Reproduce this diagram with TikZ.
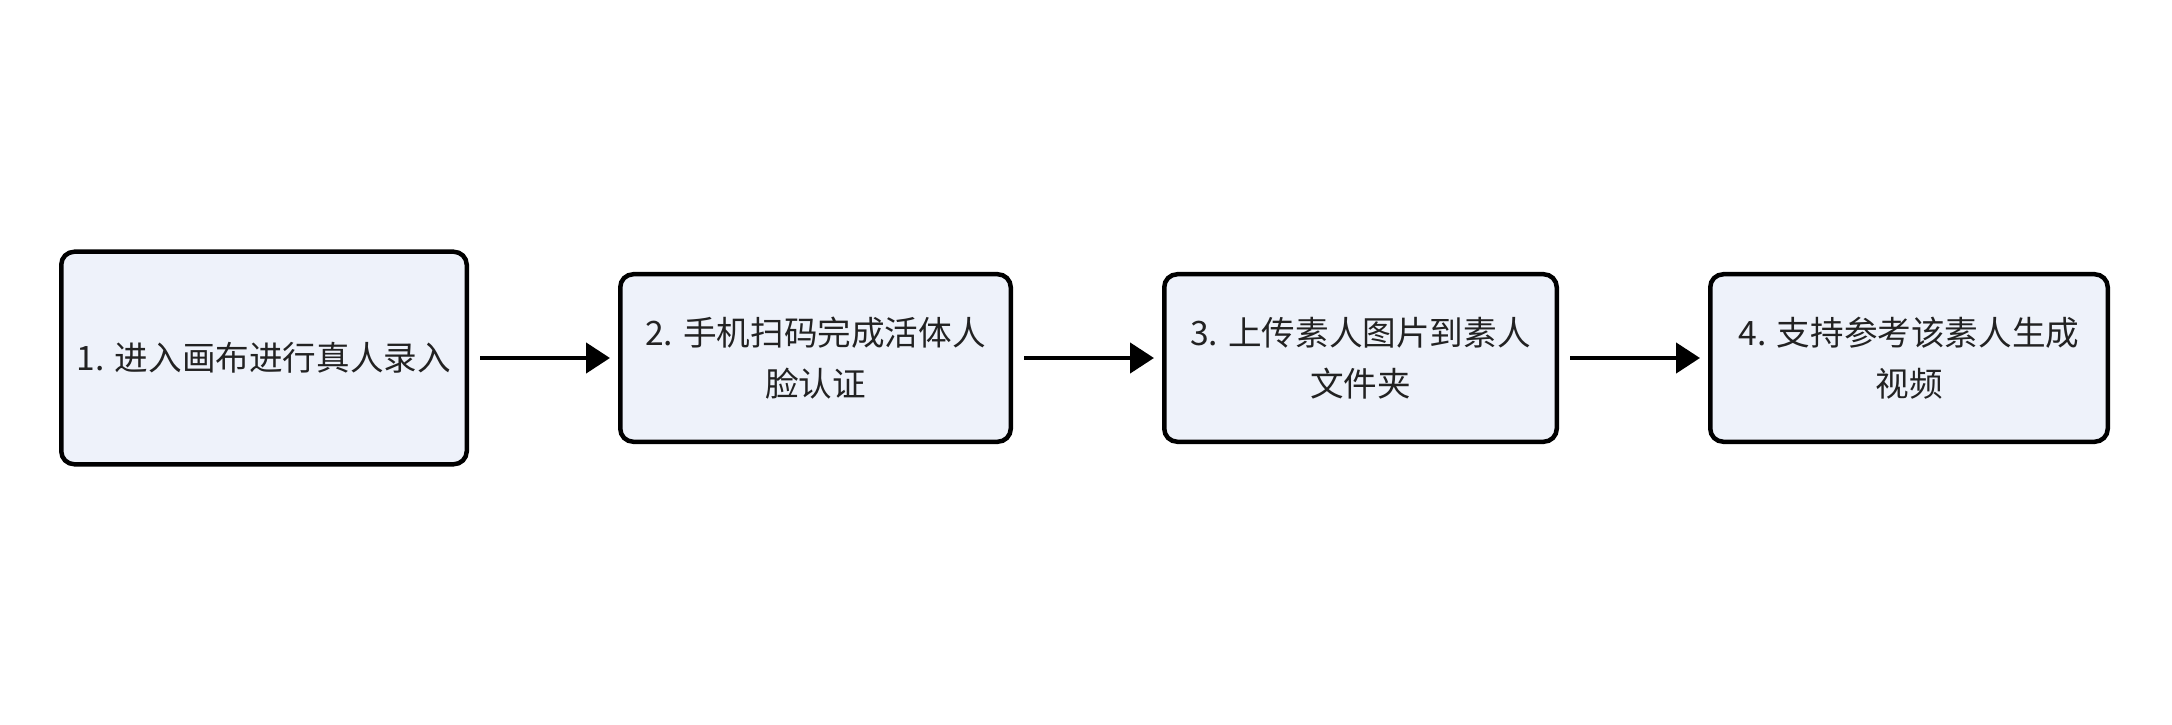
\documentclass[tikz,border=0pt]{standalone}
\usepackage{fontspec}
\setmainfont{Noto Sans CJK SC}
\usetikzlibrary{arrows.meta,positioning}
\definecolor{stepfill}{HTML}{EEF2FA}
\definecolor{steptext}{HTML}{222222}

\begin{document}
\begin{tikzpicture}[
  stepbox/.style={draw=black, line width=2.25pt, rounded corners=6.5pt,
    fill=stepfill, text=steptext, align=center, inner sep=0pt,
    font=\fontsize{16.8pt}{25.5pt}\selectfont, minimum height=83.75pt},
  flow/.style={line width=2.25pt, -{Triangle[length=12pt,width=15pt]},
    shorten <=5.5pt, shorten >=4pt},
  node distance=74.5pt]
			 \useasboundingbox[fill=white] (0,0) rectangle (1086pt,362pt);
			 \node[stepbox, minimum width=202.75pt, minimum height=106.25pt] (enter) at (132pt,183pt) {1. 进入画布进行真人录入};
			 \node[stepbox, minimum width=195.25pt] (verify) [right=of enter] {2. 手机扫码完成活体人\\脸认证};
			 \node[stepbox, minimum width=196.25pt] (upload) [right=of verify] {3. 上传素人图片到素人\\文件夹};
			 \node[stepbox, minimum width=198.75pt] (video) [right=of upload] {4. 支持参考该素人生成\\视频};
			 \draw[flow] (enter) -- (verify);
			 \draw[flow] (verify) -- (upload);
			 \draw[flow] (upload) -- (video);
			\end{tikzpicture}
\end{document}
